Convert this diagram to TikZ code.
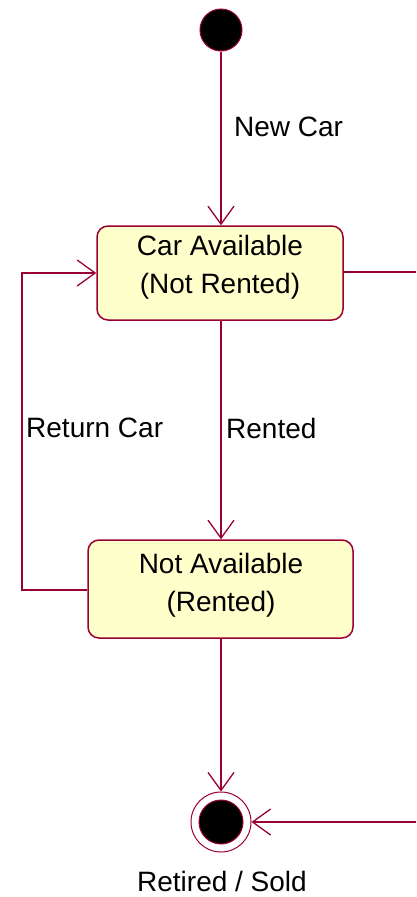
\documentclass[tikz,border=0pt]{standalone}
\usepackage{fontspec}
\setmainfont{Liberation Sans}
\usetikzlibrary{arrows.meta}
\definecolor{umlred}{HTML}{990033}
\definecolor{umlfill}{HTML}{FFFFCC}
\tikzset{
  statebox/.style={draw=umlred, fill=umlfill, line width=1.5pt, rounded corners=11pt, inner sep=0pt},
  statetext/.style={align=center, inner sep=0pt, font=\fontsize{28}{38}\selectfont},
  trans/.style={draw=umlred, line width=1.5pt, -{Straight Barb[length=18pt,width=26pt,line width=1.3pt]}},
  lbl/.style={font=\fontsize{28}{30}\selectfont, inner sep=0pt}
}
\begin{document}
\begin{tikzpicture}[x=1pt,y=-1pt]
\useasboundingbox (0,0) rectangle (416,897);
\node[circle, fill=black, draw=umlred, line width=1pt, minimum size=42pt, inner sep=0pt] (init) at (221,30) {};
\node[statebox, minimum width=246pt, minimum height=94pt] (avail) at (220,273) {};
\node[statetext] (availt) at (220,267) {Car Available\\(Not Rented)};
\node[statebox, minimum width=265pt, minimum height=98pt] (rented) at (220.5,589) {};
\node[statetext] (rentedt) at (221,585) {Not Available\\(Rented)};
\node[circle, draw=umlred, line width=1pt, fill=white, minimum size=60pt, inner sep=0pt] (final) at (221,822) {};
\node[circle, fill=black, draw=umlred, line width=1pt, minimum size=44pt, inner sep=0pt] (finalin) at (221,822) {};
\coordinate (rtop) at (416,272);
\coordinate (rbot) at (416,822);
\coordinate (lcor1) at (22,590);
\coordinate (lcor2) at (22,273);
\draw[trans] (init) -- (init |- avail.north);
\draw[trans] (init |- avail.south) -- (init |- rented.north);
\draw[trans] (rented.west |- lcor1) -- (lcor1) -- (lcor2) -- (avail.west |- lcor2);
\draw[trans] (final |- rented.south) -- (final.north);
\draw[trans] (rbot) -- (final.east);
\draw[draw=umlred, line width=1.5pt] (avail.east |- rtop) -- (rtop);
\node[lbl, anchor=west] (lnew) at (234,127) {New Car};
\node[lbl, anchor=west] (lrent) at (226,428) {Rented};
\node[lbl, anchor=west] (lret) at (26,428) {Return Car};
\node[lbl] (lsold) at (222,881) {Retired / Sold};
\end{tikzpicture}
\end{document}
